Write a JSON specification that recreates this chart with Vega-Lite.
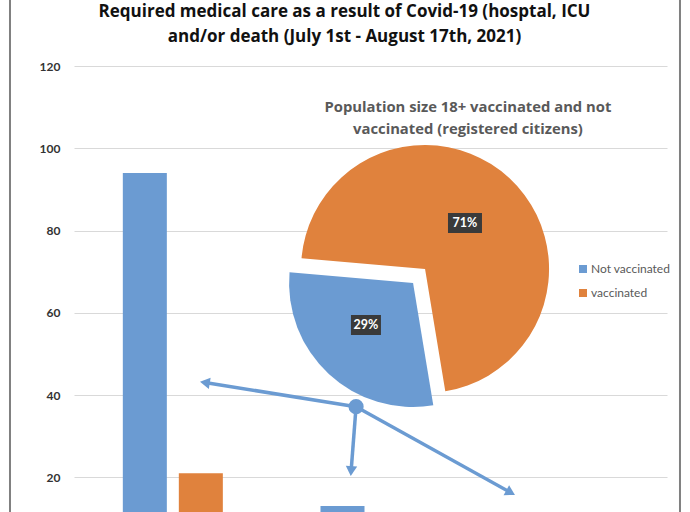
{
  "$schema": "https://vega.github.io/schema/vega-lite/v6.json",
  "width": 593,
  "height": 446,
  "autosize": {"type": "none"},
  "padding": {"left": 74, "top": 66, "right": 23, "bottom": 0},
  "background": "white",
  "title": {
    "text": ["Required medical care as a result of Covid-19 (hosptal, ICU", "and/or death (July 1st - August 17th, 2021)"],
    "font": "Open Sans",
    "fontSize": 17,
    "fontWeight": "bold",
    "color": "#111111",
    "lineHeight": 25,
    "anchor": "middle",
    "dx": -26,
    "offset": -51
  },
  "config": {
    "font": "Lato",
    "view": {"stroke": null},
    "axis": {
      "labelFont": "Lato",
      "labelFontSize": 12,
      "labelFontWeight": "bold",
      "labelColor": "#333333",
      "labelPadding": 14,
      "domain": false,
      "ticks": false,
      "gridColor": "#d9d9d9",
      "gridWidth": 1
    },
    "legend": {
      "labelFont": "Lato",
      "labelFontSize": 12,
      "labelColor": "#595959",
      "symbolType": "square",
      "symbolSize": 64,
      "symbolStrokeWidth": 0,
      "rowPadding": 12,
      "labelOffset": 2,
      "padding": 0
    }
  },
  "datasets": {
    "bars": [
      {"group": "Hospital", "status": "Not vaccinated", "value": 94},
      {"group": "Hospital", "status": "vaccinated", "value": 21},
      {"group": "ICU", "status": "Not vaccinated", "value": 13},
      {"group": "ICU", "status": "vaccinated", "value": 4},
      {"group": "Death", "status": "Not vaccinated", "value": 8},
      {"group": "Death", "status": "vaccinated", "value": 3}
    ],
    "pie": [
      {"status": "vaccinated", "pct": 71, "order": 1},
      {"status": "Not vaccinated", "pct": 29, "order": 2}
    ],
    "arrows": [
      {"x1": 1.427, "y1": 37.16, "x2": 0.662, "y2": 43.05},
      {"x1": 1.427, "y1": 37.16, "x2": 1.402, "y2": 21.53},
      {"x1": 1.427, "y1": 37.16, "x2": 2.209, "y2": 16.28}
    ],
    "junction": [{"x": 1.427, "y": 37.16}]
  },
  "layer": [
    {
      "data": {"name": "bars"},
      "mark": {"type": "bar"},
      "encoding": {
        "x": {
          "field": "group", "type": "nominal", "sort": ["Hospital", "ICU", "Death"],
          "scale": {"paddingInner": 0.494, "paddingOuter": 0.247},
          "axis": null
        },
        "xOffset": {
          "field": "status", "type": "nominal", "sort": ["Not vaccinated", "vaccinated"],
          "scale": {"paddingInner": 0.214, "paddingOuter": 0}
        },
        "y": {
          "field": "value", "type": "quantitative",
          "scale": {"domain": [11.56, 120], "nice": false, "zero": false},
          "axis": {"values": [20, 40, 60, 80, 100, 120], "title": null, "grid": true}
        },
        "color": {
          "field": "status", "type": "nominal",
          "scale": {"domain": ["Not vaccinated", "vaccinated"], "range": ["#6b9bd2", "#e0823d"]},
          "legend": {"title": null, "orient": "none", "legendX": 503, "legendY": 197}
        }
      }
    },
    {
      "layer": [
        {
          "data": {"values": [{}]},
          "mark": {"type": "rule", "stroke": "#808080", "strokeWidth": 2},
          "encoding": {
            "x": {"datum": -0.3238, "type": "quantitative", "scale": {"domain": [0, 3], "nice": false, "zero": false}, "axis": null},
            "y": {"datum": 137, "type": "quantitative", "scale": {"domain": [11.56, 120], "nice": false, "zero": false}, "axis": null},
            "y2": {"datum": 0}
          }
        },
        {
          "data": {"values": [{}]},
          "mark": {"type": "rule", "stroke": "#808080", "strokeWidth": 2},
          "encoding": {
            "x": {"datum": 3.0657, "type": "quantitative", "scale": {"domain": [0, 3], "nice": false, "zero": false}, "axis": null},
            "y": {"datum": 137, "type": "quantitative", "scale": {"domain": [11.56, 120], "nice": false, "zero": false}, "axis": null},
            "y2": {"datum": 0}
          }
        },
        {
          "data": {"values": [{}]},
          "mark": {"type": "text", "font": "Open Sans", "fontSize": 14.8, "fontWeight": "bold", "color": "#595959", "lineHeight": 22, "align": "center", "baseline": "middle",
            "text": ["Population size 18+ vaccinated and not", "vaccinated (registered citizens)"]},
          "encoding": {
            "x": {"datum": 1.993, "type": "quantitative", "scale": {"domain": [0, 3], "nice": false, "zero": false}, "axis": null},
            "y": {"datum": 109.67, "type": "quantitative", "scale": {"domain": [11.56, 120], "nice": false, "zero": false}, "axis": null}
          }
        },
        {
          "data": {"name": "pie"},
          "transform": [
            {"stack": "pct", "groupby": [], "sort": [{"field": "order"}], "as": ["t0", "t1"]},
            {"filter": "datum.status === 'vaccinated'"}
          ],
          "mark": {"type": "arc", "radius": 124},
          "encoding": {
            "x": {"datum": 1.776, "type": "quantitative", "scale": {"domain": [0, 3], "nice": false, "zero": false}, "axis": null},
            "y": {"datum": 70.64, "type": "quantitative", "scale": {"domain": [11.56, 120], "nice": false, "zero": false}, "axis": null},
            "theta": {"field": "t0", "type": "quantitative", "scale": {"domain": [0, 100], "range": [-1.4835, 4.7997]}},
            "theta2": {"field": "t1"},
            "color": {"field": "status", "type": "nominal"}
          }
        },
        {
          "data": {"name": "pie"},
          "transform": [
            {"stack": "pct", "groupby": [], "sort": [{"field": "order"}], "as": ["t0", "t1"]},
            {"filter": "datum.status === 'Not vaccinated'"}
          ],
          "mark": {"type": "arc", "radius": 124, "xOffset": -12, "yOffset": 14},
          "encoding": {
            "x": {"datum": 1.776, "type": "quantitative", "scale": {"domain": [0, 3], "nice": false, "zero": false}, "axis": null},
            "y": {"datum": 70.64, "type": "quantitative", "scale": {"domain": [11.56, 120], "nice": false, "zero": false}, "axis": null},
            "theta": {"field": "t0", "type": "quantitative", "scale": {"domain": [0, 100], "range": [-1.4835, 4.7997]}},
            "theta2": {"field": "t1"},
            "color": {"field": "status", "type": "nominal"}
          }
        },
        {
          "data": {"values": [{"label": "71%"}]},
          "mark": {"type": "point", "shape": "M-1,-0.59H1V0.59H-1Z", "size": 1156, "filled": true, "fill": "#3a3a3a", "opacity": 1, "strokeWidth": 0},
          "encoding": {
            "x": {"datum": 1.978, "type": "quantitative", "scale": {"domain": [0, 3], "nice": false, "zero": false}, "axis": null},
            "y": {"datum": 81.83, "type": "quantitative", "scale": {"domain": [11.56, 120], "nice": false, "zero": false}, "axis": null}
          }
        },
        {
          "data": {"values": [{"label": "71%"}]},
          "mark": {"type": "text", "font": "Lato", "fontSize": 12.5, "fontWeight": "bold", "color": "white", "align": "center", "baseline": "middle"},
          "encoding": {
            "x": {"datum": 1.978, "type": "quantitative", "scale": {"domain": [0, 3], "nice": false, "zero": false}, "axis": null},
            "y": {"datum": 81.83, "type": "quantitative", "scale": {"domain": [11.56, 120], "nice": false, "zero": false}, "axis": null},
            "text": {"field": "label"}
          }
        },
        {
          "data": {"values": [{"label": "29%"}]},
          "mark": {"type": "point", "shape": "M-1,-0.667H1V0.667H-1Z", "size": 900, "filled": true, "fill": "#3a3a3a", "opacity": 1, "strokeWidth": 0},
          "encoding": {
            "x": {"datum": 1.477, "type": "quantitative", "scale": {"domain": [0, 3], "nice": false, "zero": false}, "axis": null},
            "y": {"datum": 57.03, "type": "quantitative", "scale": {"domain": [11.56, 120], "nice": false, "zero": false}, "axis": null}
          }
        },
        {
          "data": {"values": [{"label": "29%"}]},
          "mark": {"type": "text", "font": "Lato", "fontSize": 12.5, "fontWeight": "bold", "color": "white", "align": "center", "baseline": "middle"},
          "encoding": {
            "x": {"datum": 1.477, "type": "quantitative", "scale": {"domain": [0, 3], "nice": false, "zero": false}, "axis": null},
            "y": {"datum": 57.03, "type": "quantitative", "scale": {"domain": [11.56, 120], "nice": false, "zero": false}, "axis": null},
            "text": {"field": "label"}
          }
        },
        {
          "data": {"name": "arrows"},
          "mark": {"type": "rule", "stroke": "#6b9bd2", "strokeWidth": 3.5},
          "encoding": {
            "x": {"field": "x1", "type": "quantitative", "scale": {"domain": [0, 3], "nice": false, "zero": false}, "axis": null},
            "y": {"field": "y1", "type": "quantitative", "scale": {"domain": [11.56, 120], "nice": false, "zero": false}, "axis": null},
            "x2": {"field": "x2"},
            "y2": {"field": "y2"}
          }
        },
        {
          "data": {"name": "arrows"},
          "transform": [
            {"calculate": "atan2((datum.x2 - datum.x1) * 197.67, (datum.y2 - datum.y1) * 4.113) * 180 / PI", "as": "heading"}
          ],
          "mark": {"type": "point", "shape": "triangle-up", "size": 130, "filled": true, "fill": "#6b9bd2", "opacity": 1, "strokeWidth": 0},
          "encoding": {
            "x": {"field": "x2", "type": "quantitative", "scale": {"domain": [0, 3], "nice": false, "zero": false}, "axis": null},
            "y": {"field": "y2", "type": "quantitative", "scale": {"domain": [11.56, 120], "nice": false, "zero": false}, "axis": null},
            "angle": {"field": "heading", "type": "quantitative", "scale": null}
          }
        },
        {
          "data": {"name": "junction"},
          "mark": {"type": "point", "shape": "circle", "size": 230, "filled": true, "fill": "#6b9bd2", "opacity": 1, "strokeWidth": 0},
          "encoding": {
            "x": {"field": "x", "type": "quantitative", "scale": {"domain": [0, 3], "nice": false, "zero": false}, "axis": null},
            "y": {"field": "y", "type": "quantitative", "scale": {"domain": [11.56, 120], "nice": false, "zero": false}, "axis": null}
          }
        }
      ]
    }
  ],
  "resolve": {"scale": {"x": "independent", "y": "independent"}}
}
